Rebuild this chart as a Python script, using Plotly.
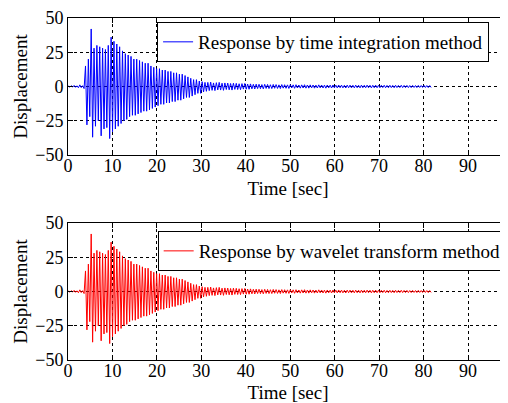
import plotly.graph_objects as go

# ---- data ----
t_start = 0.1          # s, first sample
dt = 0.32              # s, spacing between successive read peaks
# displacement peaks (alternating)
disp_time_integration = [
    0.4, -0.5, 0.6, -0.4, 0.8, -0.6, 0.5, -0.9, 1.2, -0.8, 0.6, -1.5,
    15, -28, 20, -22, 42, -37, 28, -29, 30, -25, 29, -36, 28, -31, 27, -30,
    30, -38, 36, -33, 33, -31, 31, -29, 29, -27, 26, -25, 24, -24, 23, -22,
    22, -21, 20, -21, 20, -20, 19, -19, 18, -18, 17, -18, 17, -17, 15, -16,
    14, -15, 13, -14, 13, -13, 12, -13, 12, -12, 11, -12, 11, -11, 10, -11,
    10, -10, 9, -10, 9, -9, 8, -8, 7, -8, 6, -7, 5, -6, 5, -5, 4, -5,
    3.5, -4, 3, -3.5, 3, -3, 3.2, -2.8, 2.6, -3, 2.8, -2.5, 3, -2.6, 2.4, -2.8,
    2.6, -2.2, 2.5, -2.4, 2.2, -2.6, 2.4, -2.1, 2.3, -2.2, 2, -2.3, 2.1, -1.9, 2.2, -2,
    1.8, -2, 1.9, -1.7, 1.6, -1.8, 1.7, -1.5, 1.6, -1.6, 1.4, -1.7, 1.6, -1.4, 1.5, -1.5,
    1.3, -1.5, 1.5, -1.3, 1.4, -1.4, 1.2, -1.5, 1.4, -1.2, 1.3, -1.3, 1.2, -1.4, 1.3, -1.1,
    1.2, -1.3, 1.3, -1.1, 1.1, -1.2, 1.2, -1.1, 1.3, -1.2, 1.1, -1.2, 1.2, -1.0, 1.1, -1.2,
    1.0, -1.1, 1.2, -1.0, 1.1, -1.1, 1.0, -1.2, 1.1, -1.0, 1.0, -1.1, 1.1, -1.0, 1.0, -1.0,
    1.1, -0.9, 1.0, -1.0, 0.9, -1.1, 1.0, -0.9, 1.0, -1.0, 0.9, -1.0, 1.0, -0.9, 0.9, -1.0,
    1.0, -0.9, 0.9, -0.9, 1.0, -0.9, 0.9, -1.0, 0.9, -0.9, 1.0, -0.9, 0.9, -0.9, 0.9, -0.8,
    0.9, -0.9, 0.8, -0.9, 0.9, -0.8, 0.8, -0.9, 0.9, -0.8, 0.8, -0.8, 0.9, -0.8, 0.8, -0.8,
    0.8, -0.8, 0.7, -0.8, 0.8, -0.7, 0.7, -0.8, 0.8, -0.7, 0.7, -0.7,
    0.8, -0.7, 0.7, -0.8, 0.7, -0.7,
]
# the wavelet-transform panel reads the same as the top one
disp_wavelet = list(disp_time_integration)

time_s = [t_start + dt * i for i in range(len(disp_time_integration))]

x_ticks = [0, 10, 20, 30, 40, 50, 60, 70, 80, 90]
y_ticks = [-50, -25, 0, 25, 50]
legend_labels = ["Response by time integration method",
                 "Response by wavelet transform method"]

FONT = "Liberation Serif"

fig = go.Figure()
fig.add_trace(go.Scatter(x=time_s, y=disp_time_integration, mode="lines",
                         line=dict(color="#0000ff", width=1),
                         name=legend_labels[0], xaxis="x", yaxis="y",
                         legend="legend"))
fig.add_trace(go.Scatter(x=time_s, y=disp_wavelet, mode="lines",
                         line=dict(color="#ff0000", width=1),
                         name=legend_labels[1], xaxis="x2", yaxis="y2",
                         legend="legend2"))

xcommon = dict(range=[0, 99], tickvals=x_ticks, showgrid=True,
               gridcolor="black", griddash="3px,3px", gridwidth=1,
               zeroline=False, showline=True, linecolor="black", linewidth=1,
               mirror="ticks", ticks="inside", ticklen=5, tickcolor="black",
               automargin=False, ticklabelstandoff=-6,
               tickfont=dict(family=FONT, size=18, color="black"),
               title=dict(text="Time [sec]", standoff=7,
                          font=dict(family=FONT, size=19, color="black")))
ycommon = dict(range=[-50, 50], tickvals=y_ticks, showgrid=True,
               gridcolor="black", griddash="3px,3px", gridwidth=1,
               zeroline=False, showline=True, linecolor="black", linewidth=1,
               ticks="inside", ticklen=5, tickcolor="black",
               automargin=False,
               tickfont=dict(family=FONT, size=18, color="black"),
               title=dict(text="Displacement", standoff=2,
                          font=dict(family=FONT, size=19, color="black")))

leg = dict(bgcolor="white", bordercolor="black", borderwidth=1,
           font=dict(family=FONT, size=19, color="black"),
           xanchor="right", yanchor="top")

# the page body adds an 8 px offset, so the figure is drawn 8 px smaller
fig.update_layout(
    width=500, height=395,
    margin=dict(l=60, r=0, t=0, b=0, autoexpand=False),
    paper_bgcolor="white", plot_bgcolor="white",
    xaxis=dict(**xcommon, domain=[0, 1], anchor="y"),
    yaxis=dict(**ycommon, domain=[0.6278, 0.9747], anchor="x"),
    xaxis2=dict(**xcommon, domain=[0, 1], anchor="y2"),
    yaxis2=dict(**ycommon, domain=[0.1089, 0.4557], anchor="x2"),
    legend=dict(**leg, x=0.957, y=0.9646),
    legend2=dict(**leg, x=0.997, y=0.4354),
    showlegend=True,
)

fig.write_html("out.html")
